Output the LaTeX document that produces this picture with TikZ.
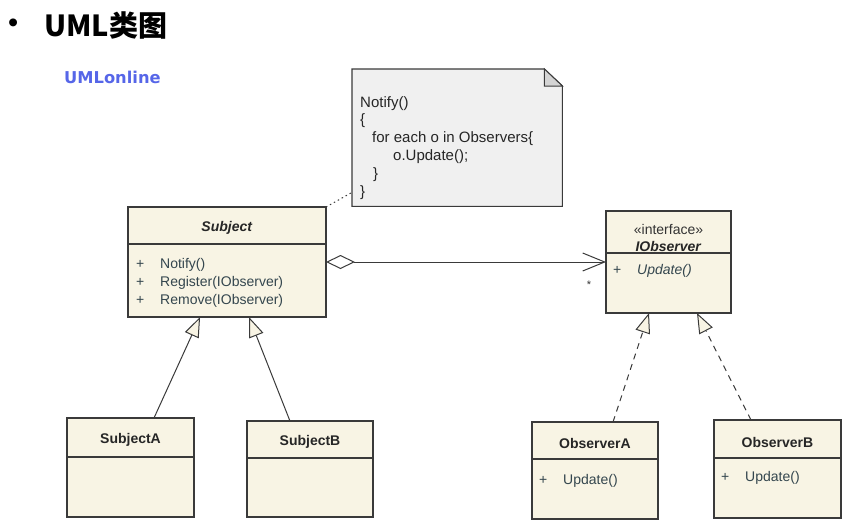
\documentclass[tikz,border=0pt]{standalone}
\usepackage{fontspec}
\setmainfont{Liberation Sans}
\newfontfamily\titlefont{Noto Sans CJK SC}
\newfontfamily\logofont{DejaVu Sans}
\usetikzlibrary{arrows.meta,calc}

\definecolor{cream}{HTML}{F8F4E4}
\definecolor{edge}{HTML}{3A3A3A}
\definecolor{notebg}{HTML}{F0F0F0}
\definecolor{fold}{HTML}{D4D4D4}
\definecolor{member}{HTML}{34464E}
\definecolor{logoblue}{HTML}{5666E8}

\tikzset{
  classbox/.style={draw=edge, fill=cream, line width=1.1pt, anchor=north west,
    inner sep=0pt, outer sep=0pt},
  divider/.style={draw=edge, line width=1.1pt},
  classname/.style={font=\bfseries\fontsize{14}{14}\selectfont, text=black!85, inner sep=0pt},
  stereo/.style={font=\fontsize{14}{14}\selectfont, text=black!80, inner sep=0pt},
  member/.style={font=\fontsize{14}{14}\selectfont, text=member, inner sep=0pt,
    anchor=west, text height=10pt, text depth=3pt},
  inherit/.style={draw=edge, line width=1pt,
    -{Triangle[length=20pt, width=15pt, fill=cream, line width=1pt]}},
  realize/.style={inherit, dash pattern=on 6pt off 5pt},
  assoc/.style={draw=edge, line width=1pt,
    {Diamond[open, length=29pt, width=14pt, line width=1pt]}-{Straight Barb[length=22pt, width=18pt, line width=1pt]}},
  noteline/.style={draw=edge, line width=1pt, dash pattern=on 1.5pt off 3pt},
}

\begin{document}
\begin{tikzpicture}[x=1pt, y=-1pt]
\useasboundingbox (0,0) rectangle (856,530);

% heading
\node[anchor=west, inner sep=0pt] (bullet) at (8,26) {\fontsize{29}{29}\selectfont\textbullet};
\node[anchor=west, inner sep=0pt] (title) at (44,25)
  {\titlefont\bfseries\fontsize{29}{29}\selectfont UML类图};
\node[anchor=west, inner sep=0pt, text=logoblue] (logo) at (64,77)
  {\logofont\bfseries\fontsize{16.3}{16.3}\selectfont UMLonline};

% note with folded corner
\node[anchor=north west, minimum width=210pt, minimum height=137pt, inner sep=0pt] (note) at (352,69) {};
\fill[notebg] (note.north west) -- ($(note.north east)+(-18,0)$) -- ($(note.north east)+(0,17)$)
  -- (note.south east) -- (note.south west) -- cycle;
\draw[edge, line width=1.1pt] (note.north west) -- ($(note.north east)+(-18,0)$) -- ($(note.north east)+(0,17)$)
  -- (note.south east) -- (note.south west) -- cycle;
\filldraw[fill=fold, draw=edge, line width=1pt] ($(note.north east)+(-18,0)$) -- ($(note.north east)+(-18,17)$)
  -- ($(note.north east)+(0,17)$) -- cycle;
\node[anchor=north west, align=left, inner sep=0pt, text=black!85,
  font=\fontsize{15}{17.8}\selectfont] (notetext) at ($(note.north west)+(8,27)$)
  {Notify()\\
   \{\\
   \hspace*{12pt}for each o in Observers\{\\
   \hspace*{33pt}o.Update();\\
   \hspace*{13pt}\}\\
   \}};

% Subject
\node[classbox, minimum width=198pt, minimum height=110pt] (subj) at (128,207) {};
\draw[divider] ($(subj.north west)+(0,37)$) -- ($(subj.north east)+(0,37)$);
\node[classname] (subjname) at ($(subj.north)+(0,21)$) {\textit{Subject}};
\node[member] (sp1) at ($(subj.north west)+(8,58)$) {+};
\node[member] (sm1) at ($(subj.north west)+(32,58)$) {Notify()};
\node[member] (sp2) at ($(subj.north west)+(8,76)$) {+};
\node[member] (sm2) at ($(subj.north west)+(32,76)$) {Register(IObserver)};
\node[member] (sp3) at ($(subj.north west)+(8,94)$) {+};
\node[member] (sm3) at ($(subj.north west)+(32,94)$) {Remove(IObserver)};

% IObserver
\node[classbox, minimum width=125pt, minimum height=102pt] (iobs) at (606,211) {};
\draw[divider] ($(iobs.north west)+(0,42)$) -- ($(iobs.north east)+(0,42)$);
\node[stereo] (iobsst) at ($(iobs.north)+(0,18)$) {«interface»};
\node[classname] (iobsname) at ($(iobs.north)+(0,35)$) {\textit{IObserver}};
\node[member] (ip1) at ($(iobs.north west)+(7,60)$) {+};
\node[member] (im1) at ($(iobs.north west)+(31,60)$) {\textit{Update()}};

% SubjectA / SubjectB
\node[classbox, minimum width=127pt, minimum height=99pt] (sa) at (67,418) {};
\draw[divider] ($(sa.north west)+(0,39)$) -- ($(sa.north east)+(0,39)$);
\node[classname] (saname) at ($(sa.north)+(0,22)$) {SubjectA};

\node[classbox, minimum width=126pt, minimum height=96pt] (sb) at (247,421) {};
\draw[divider] ($(sb.north west)+(0,37)$) -- ($(sb.north east)+(0,37)$);
\node[classname] (sbname) at ($(sb.north)+(0,21)$) {SubjectB};

% ObserverA / ObserverB
\node[classbox, minimum width=126pt, minimum height=97pt] (oa) at (532,422) {};
\draw[divider] ($(oa.north west)+(0,37)$) -- ($(oa.north east)+(0,37)$);
\node[classname] (oaname) at ($(oa.north)+(0,21)$) {ObserverA};
\node[member] (oap) at ($(oa.north west)+(7,59)$) {+};
\node[member] (oam) at ($(oa.north west)+(31,59)$) {Update()};

\node[classbox, minimum width=127pt, minimum height=98pt] (ob) at (714,420) {};
\draw[divider] ($(ob.north west)+(0,38)$) -- ($(ob.north east)+(0,38)$);
\node[classname] (obname) at ($(ob.north)+(0,22)$) {ObserverB};
\node[member] (obp) at ($(ob.north west)+(7,58)$) {+};
\node[member] (obm) at ($(ob.north west)+(31,58)$) {Update()};

% connectors
\draw[noteline] (subj.north east) -- ($(note.south west)+(0,-14)$);
\draw[assoc] (subj.east) -- (iobs.west);
\node[inner sep=0pt, font=\fontsize{11}{11}\selectfont, text=black!80] (mult) at ($(iobs.west)+(-17,23)$) {*};

\draw[inherit] ($(sa.north west)!.685!(sa.north east)$) -- ($(subj.south west)!.364!(subj.south east)$);
\draw[inherit] ($(sb.north west)!.341!(sb.north east)$) -- ($(subj.south west)!.611!(subj.south east)$);
\draw[realize] ($(oa.north west)!.643!(oa.north east)$) -- ($(iobs.south west)!.344!(iobs.south east)$);
\draw[realize] ($(ob.north west)!.291!(ob.north east)$) -- ($(iobs.south west)!.728!(iobs.south east)$);
\end{tikzpicture}
\end{document}
